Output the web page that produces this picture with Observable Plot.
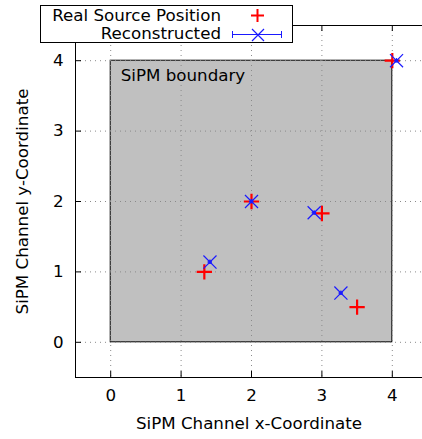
<!DOCTYPE html>
<html>
<head>
<meta charset="utf-8">
<script src="https://cdn.jsdelivr.net/npm/d3@7"></script>
<script src="https://cdn.jsdelivr.net/npm/@observablehq/plot@0.6"></script>
<style>
  body { margin: 0; background: white; }
  #wrap { position: relative; width: 422px; height: 439px; overflow: hidden; font-family: "DejaVu Sans", sans-serif; }
  #legend { position: absolute; left: 40px; top: 5px; width: 251px; height: 36px; background: white; border: 1px solid black; font-size: 16.7px; }
  #legend .row { position: absolute; right: 71px; white-space: nowrap; line-height: 18px; }
  #legend svg { position: absolute; left: 0; top: 0; }
</style>
</head>
<body>
<div id="wrap"></div>
<script>
const xTicks = [0, 1, 2, 3, 4];
const yTicks = [0, 1, 2, 3, 4];
const boundary = [{x1: 0, y1: 0, x2: 4, y2: 4}];
const realX = [1.33, 2.0, 3.0, 3.5, 4.0];
const realY = [1.0, 2.0, 1.83, 0.5, 4.0];
const recX = [1.41, 2.0, 2.89, 3.27, 4.06];
const recY = [1.14, 2.0, 1.84, 0.70, 4.0];
const recErr = [0.03, 0.03, 0.03, 0.03, 0.03];
const seriesNames = ["Real Source Position", "Reconstructed"];

const real = realX.map((x, i) => ({x, y: realY[i]}));
const rec = recX.map((x, i) => ({x, y: recY[i], e: recErr[i]}));

const W = 422, H = 439, mL = 75, mR = 0, mT = 25, mB = 62;
const pw = W - mL - mR, ph = H - mT - mB;
const blue = "#1a1aff";
const fs = 16.7;

const chart = Plot.plot({
  width: W, height: H,
  marginLeft: mL, marginRight: mR, marginTop: mT, marginBottom: mB,
  style: {fontFamily: "DejaVu Sans, sans-serif", fontSize: fs + "px", background: "white"},
  x: {domain: [-0.5, 4.5], range: [mL, mL + 352], axis: null},
  y: {domain: [-0.5, 4.5], axis: null},
  marks: [
    Plot.rect(boundary, {x1: "x1", x2: "x2", y1: "y1", y2: "y2", fill: "#c0c0c0", stroke: "black", strokeWidth: 1}),
    Plot.ruleX(xTicks, {x: d => d, stroke: "#8a8a8a", strokeDasharray: "1,4"}),
    Plot.ruleY(yTicks, {y: d => d, stroke: "#8a8a8a", strokeDasharray: "1,4"}),
    Plot.ruleX([-0.5], {x: d => d, stroke: "black"}),
    Plot.ruleY([-0.5, 4.5], {y: d => d, stroke: "black"}),
    Plot.ruleX(xTicks, {x: d => d, insetTop: ph - 6, stroke: "black"}),
    Plot.ruleX(xTicks, {x: d => d, insetBottom: ph - 6, stroke: "black"}),
    Plot.ruleY(yTicks, {y: d => d, insetRight: pw - 6, stroke: "black"}),
    Plot.text(xTicks, {x: d => d, frameAnchor: "bottom", dy: 23, text: d => String(d), fontSize: fs, fill: "black"}),
    Plot.text(yTicks, {y: d => d, frameAnchor: "left", dx: -12, textAnchor: "end", text: d => String(d), fontSize: fs, fill: "black"}),
    Plot.text(["SiPM boundary"], {x: 0, y: 4, dx: 10, dy: 15, textAnchor: "start", text: d => d, fontSize: fs, fill: "black"}),
    Plot.text(["SiPM Channel x-Coordinate"], {frameAnchor: "bottom", dy: 51, textAnchor: "middle", text: d => d, fontSize: fs, fill: "black"}),
    Plot.text(["SiPM Channel y-Coordinate"], {frameAnchor: "left", dx: -53, textAnchor: "middle", rotate: -90, text: d => d, fontSize: fs, fill: "black"}),
    Plot.dot(real, {x: "x", y: "y", symbol: "plus", r: 5, stroke: "red", strokeWidth: 2.2}),
    Plot.ruleY(rec, {y: "y", x1: d => d.x - d.e, x2: d => d.x + d.e, stroke: blue, strokeWidth: 1}),
    Plot.ruleX(rec, {x: "x", y1: d => d.y - d.e, y2: d => d.y + d.e, stroke: blue, strokeWidth: 1}),
    Plot.dot(rec, {x: "x", y: "y", symbol: "times", r: 6, stroke: blue, strokeWidth: 1.2}),
    Plot.dot(rec, {x: "x", y: "y", symbol: "square", r: 2, fill: blue})
  ]
});

const wrap = document.getElementById("wrap");
wrap.appendChild(chart);
chart.style.position = "absolute";
chart.style.left = "0";
chart.style.top = "0";

const legend = document.createElement("div");
legend.id = "legend";
legend.innerHTML = `
  <div class="row" style="top:0px">${seriesNames[0]}</div>
  <div class="row" style="top:18px">${seriesNames[1]}</div>
  <svg width="251" height="36">
    <path d="M210,9.5h13M216.5,3v13" stroke="red" stroke-width="2" fill="none"/>
    <path d="M191,28.5h50M191.5,25v7M240.5,25v7" stroke="${blue}" stroke-width="1" fill="none"/>
    <path d="M211,23l12,12M223,23l-12,12" stroke="${blue}" stroke-width="1.2" fill="none"/>
  </svg>`;
wrap.appendChild(legend);
</script>
</body>
</html>
